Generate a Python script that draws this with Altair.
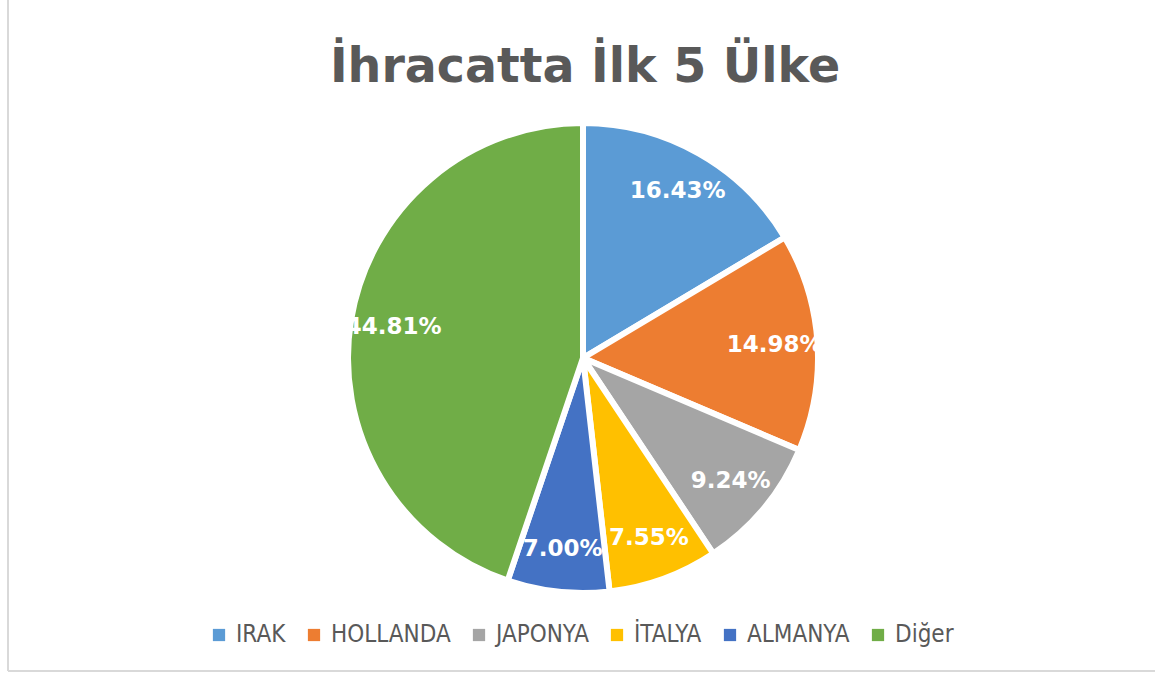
import altair as alt
import pandas as pd

countries = ["IRAK", "HOLLANDA", "JAPONYA", "İTALYA", "ALMANYA", "Diğer"]
shares = [16.43, 14.98, 9.24, 7.55, 7.00, 44.81]
colors = ["#5B9BD5", "#ED7D31", "#A5A5A5", "#FFC000", "#4472C4", "#70AD47"]
title_text = "İhracatta İlk 5 Ülke"

df = pd.DataFrame({"country": countries, "share": shares, "idx": list(range(len(countries)))})

base = alt.Chart(df).transform_calculate(
    label="format(datum.share, '.2f') + '%'"
).encode(
    theta=alt.Theta("share:Q", stack=True),
    order=alt.Order("idx:Q"),
    x=alt.value(583),
    y=alt.value(358),
)

pie = base.mark_arc(outerRadius=235, stroke="white", strokeWidth=6).encode(
    color=alt.Color(
        "country:N",
        sort=countries,
        scale=alt.Scale(domain=countries, range=colors),
        legend=alt.Legend(
            orient="none",
            legendX=207,
            legendY=623,
            direction="horizontal",
            title=None,
            symbolType="square",
            symbolSize=150,
            symbolStrokeWidth=0,
            labelFont="DejaVu Sans Condensed",
            labelFontSize=24,
            labelColor="#595959",
            columnPadding=16,
            labelOffset=5,
        ),
    )
)

labels = base.mark_text(
    radius=192, font="DejaVu Sans", fontWeight="bold", fontSize=23, color="white"
).encode(text="label:N")

one = alt.Chart(pd.DataFrame({"a": [0]}))
title = one.mark_text(
    font="DejaVu Sans", fontWeight="bold", fontSize=47.5, color="#595959", baseline="alphabetic"
).encode(x=alt.value(585), y=alt.value(82), text=alt.value(title_text))

border_left = one.mark_rule(color="#d9d9d9", strokeWidth=2).encode(
    x=alt.value(8), y=alt.value(0), y2=alt.value(671)
)
border_bottom = one.mark_rule(color="#d9d9d9", strokeWidth=2).encode(
    x=alt.value(8), x2=alt.value(1155), y=alt.value(671)
)

chart = alt.layer(border_left, border_bottom, pie, labels, title).properties(
    width=1155, height=675, autosize="none", padding=0
).configure_view(stroke=None)

chart.save("out.html", embed_options={"renderer": "svg", "actions": False})
